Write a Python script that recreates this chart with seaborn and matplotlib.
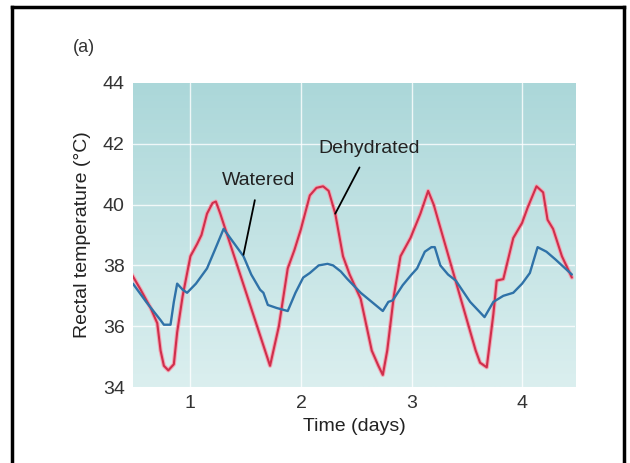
import numpy as np
import pandas as pd
import matplotlib
matplotlib.use("Agg")
import matplotlib.pyplot as plt
from matplotlib.lines import Line2D
from matplotlib.colors import LinearSegmentedColormap
import seaborn as sns

# ---- data ----
dehyd_days = [0.47, 0.55, 0.64, 0.70, 0.73, 0.76, 0.80, 0.85, 0.88, 0.93, 1.00, 1.06, 1.10,
              1.15, 1.20, 1.23, 1.27, 1.72, 1.80, 1.88, 1.94, 2.00, 2.08, 2.14, 2.20, 2.25,
              2.31, 2.38, 2.44, 2.54, 2.64, 2.70, 2.74, 2.78, 2.84, 2.90, 2.99, 3.08, 3.15,
              3.20, 3.58, 3.62, 3.68, 3.74, 3.77, 3.83, 3.92, 4.00, 4.05, 4.13, 4.19, 4.23,
              4.28, 4.36, 4.45]
dehyd_temp = [37.7, 37.2, 36.6, 36.1, 35.2, 34.7, 34.55, 34.75, 35.8, 37.0, 38.3, 38.7, 39.0,
              39.7, 40.05, 40.1, 39.7, 34.7, 36.0, 37.9, 38.5, 39.2, 40.3, 40.55, 40.6, 40.45,
              39.7, 38.3, 37.7, 36.9, 35.2, 34.7, 34.4, 35.2, 37.0, 38.3, 38.9, 39.7, 40.45,
              40.0, 35.2, 34.8, 34.65, 36.4, 37.5, 37.55, 38.9, 39.4, 39.9, 40.6, 40.4, 39.5,
              39.2, 38.3, 37.6]

water_days = [0.48, 0.60, 0.73, 0.76, 0.82, 0.85, 0.88, 0.93, 0.97, 1.05, 1.15, 1.22, 1.30,
              1.40, 1.48, 1.55, 1.63, 1.66, 1.70, 1.78, 1.88, 1.95, 2.02, 2.08, 2.16, 2.24,
              2.29, 2.36, 2.42, 2.54, 2.64, 2.74, 2.79, 2.83, 2.92, 3.00, 3.05, 3.12, 3.18,
              3.21, 3.26, 3.33, 3.40, 3.53, 3.66, 3.74, 3.83, 3.92, 4.00, 4.07, 4.14, 4.22,
              4.30, 4.45]
water_temp = [37.4, 36.8, 36.2, 36.05, 36.05, 36.8, 37.4, 37.2, 37.1, 37.4, 37.9, 38.5, 39.2,
              38.7, 38.3, 37.7, 37.2, 37.1, 36.7, 36.6, 36.5, 37.1, 37.6, 37.75, 38.0, 38.05,
              38.0, 37.8, 37.55, 37.1, 36.8, 36.5, 36.8, 36.85, 37.35, 37.7, 37.9, 38.45, 38.6,
              38.6, 38.0, 37.7, 37.5, 36.8, 36.3, 36.8, 37.0, 37.1, 37.4, 37.75, 38.6, 38.45,
              38.2, 37.7]

x_ticks = [1, 2, 3, 4]
y_ticks = [34, 36, 38, 40, 42, 44]

sns.set_style("white")
plt.rcParams['font.family'] = ['Liberation Sans', 'DejaVu Sans']

fig = plt.figure(figsize=(6.3, 4.63), dpi=100)
ax = fig.add_axes([0.211, 0.164, 0.702, 0.657])

xlim = (0.48, 4.48)
ylim = (34, 44)

# gradient background
cmap = LinearSegmentedColormap.from_list("bg", ["#dbefef", "#abd7d9"])
grad = np.linspace(0, 1, 256).reshape(-1, 1)
ax.imshow(grad, extent=[xlim[0], xlim[1], ylim[0], ylim[1]], origin="lower",
          cmap=cmap, aspect="auto", zorder=0)

# gridlines
for xv in x_ticks:
    ax.axvline(xv, color="white", lw=1.0, alpha=0.8, zorder=1)
for yv in [36, 38, 40, 42]:
    ax.axhline(yv, color="white", lw=1.0, alpha=0.8, zorder=1)

df_d = pd.DataFrame({"Time": dehyd_days, "Temp": dehyd_temp})
df_w = pd.DataFrame({"Time": water_days, "Temp": water_temp})

sns.lineplot(data=df_d, x="Time", y="Temp", ax=ax, color="#f2a6b4", lw=3.0, zorder=2,
             estimator=None, sort=False)
sns.lineplot(data=df_d, x="Time", y="Temp", ax=ax, color="#cf2f4c", lw=1.5, zorder=3,
             estimator=None, sort=False)
sns.lineplot(data=df_w, x="Time", y="Temp", ax=ax, color="#2f72a8", lw=1.7, zorder=4,
             estimator=None, sort=False)

ax.set_xlim(*xlim)
ax.set_ylim(*ylim)
ax.set_xticks(x_ticks)
ax.set_yticks(y_ticks)
ax.tick_params(axis="both", length=0, labelsize=14, labelcolor="#333333", pad=6)
for s in ax.spines.values():
    s.set_visible(False)

ax.set_xlabel("Time (days)", fontsize=14, color="#222222", labelpad=4)
ax.set_ylabel("Rectal temperature (°C)", fontsize=14, color="#222222", labelpad=8)

# annotations
ax.annotate("Watered", xy=(1.48, 38.35), xytext=(1.62, 40.8), fontsize=14, color="#222222",
            ha="center", va="center",
            arrowprops=dict(arrowstyle="-", color="black", lw=1.3, shrinkA=6, shrinkB=0),
            zorder=6)
ax.annotate("Dehydrated", xy=(2.31, 39.7), xytext=(2.62, 41.85), fontsize=14, color="#222222",
            ha="center", va="center",
            arrowprops=dict(arrowstyle="-", color="black", lw=1.3, shrinkA=6, shrinkB=0),
            zorder=6)

fig.text(73 / 630, 1 - 48 / 463, "(a)", fontsize=13, color="#333333", ha="left", va="center")

# figure frame (open at bottom, as in the reference)
x0, x1, yt = 12 / 630, 624 / 630, 1 - 7 / 463
for xs, ys in [([x0, x0], [-0.05, yt]), ([x0, x1], [yt, yt]), ([x1, x1], [yt, -0.05])]:
    fig.add_artist(Line2D(xs, ys, transform=fig.transFigure, color="black", lw=2.5,
                          solid_capstyle="projecting"))

fig.savefig("out.png", dpi=100)
